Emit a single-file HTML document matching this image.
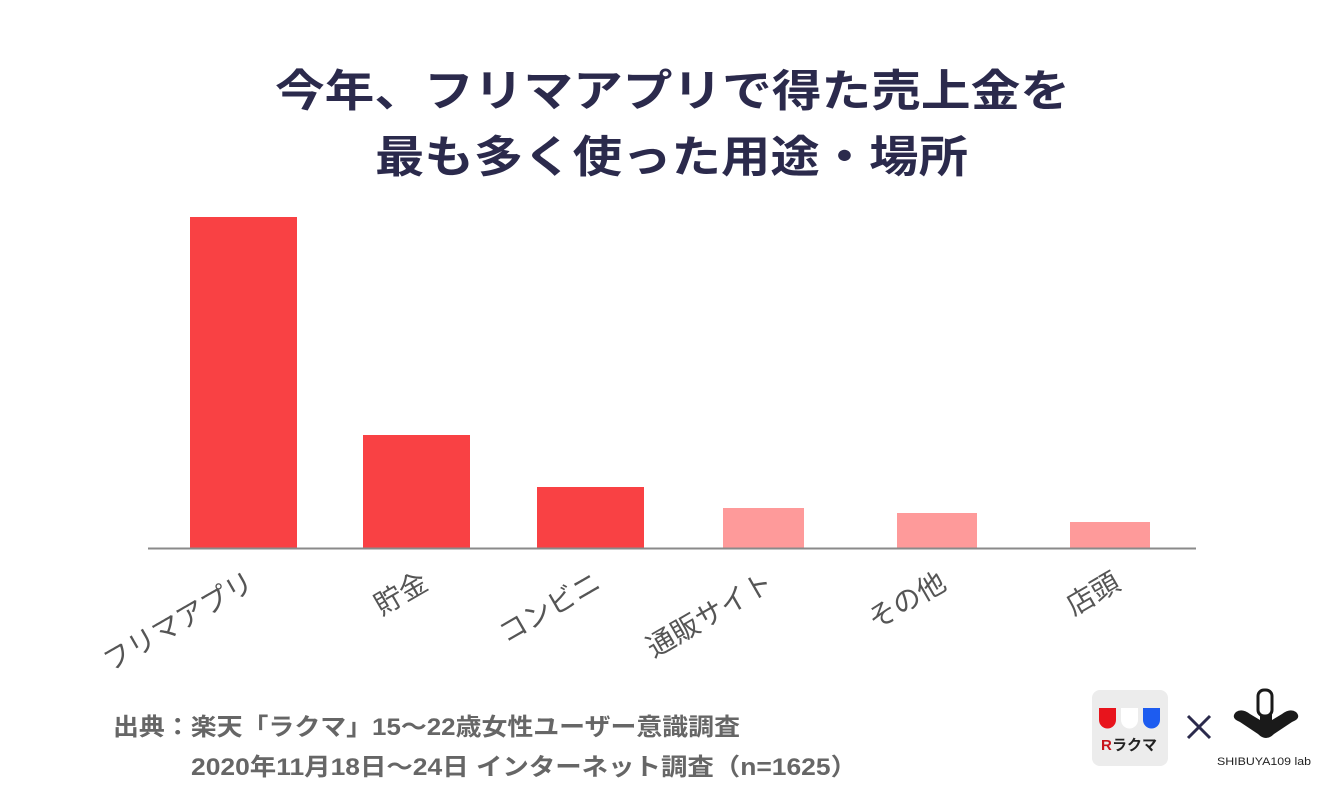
<!DOCTYPE html>
<html><head><meta charset="utf-8"><style>
html,body{margin:0;padding:0;background:#fff;}
svg{display:block;}
text{font-family:"Liberation Sans","Noto Sans CJK JP",sans-serif;}
</style></head><body>
<svg width="1344" height="806" viewBox="0 0 1344 806" xmlns="http://www.w3.org/2000/svg">
<rect width="1344" height="806" fill="#fff"/>
<g fill="#2b2a4c" font-weight="bold" font-size="44">
<text x="275" y="106" textLength="795" lengthAdjust="spacingAndGlyphs">今年、フリマアプリで得た売上金を</text>
<text x="375" y="172" textLength="593" lengthAdjust="spacingAndGlyphs">最も多く使った用途・場所</text>
</g>
<rect x="190" y="217" width="107" height="331" fill="#f94144"/>
<rect x="363" y="435" width="107" height="113" fill="#f94144"/>
<rect x="537" y="487" width="107" height="61" fill="#f94144"/>
<rect x="723" y="508" width="81" height="40" fill="#fe9a9a"/>
<rect x="897" y="513" width="80" height="35" fill="#fe9a9a"/>
<rect x="1070" y="522" width="80" height="26" fill="#fe9a9a"/>
<line x1="148" y1="548.5" x2="1196" y2="548.5" stroke="#8a8a8a" stroke-width="2"/>
<g fill="#555" font-size="28" text-anchor="end">
<text transform="translate(256,588) rotate(-30)">フリマアプリ</text>
<text transform="translate(430,588) rotate(-30)">貯金</text>
<text transform="translate(603,588) rotate(-30)">コンビニ</text>
<text transform="translate(775,588) rotate(-30)">通販サイト</text>
<text transform="translate(948,588) rotate(-30)">その他</text>
<text transform="translate(1122,588) rotate(-30)">店頭</text>
</g>
<g fill="#666" font-size="24" font-weight="bold">
<text x="113" y="735" textLength="627" lengthAdjust="spacingAndGlyphs">出典：楽天「ラクマ」15〜22歳女性ユーザー意識調査</text>
<text x="191" y="775" textLength="666" lengthAdjust="spacingAndGlyphs">2020年11月18日〜24日 インターネット調査（n=1625）</text>
</g>
<rect x="1092" y="690" width="76" height="76" rx="8" fill="#ececec"/>
<path d="M1099 708 h17 v12 a8.5 8.5 0 0 1 -17 0 z" fill="#e8141c"/>
<path d="M1121 708 h17 v12 a8.5 8.5 0 0 1 -17 0 z" fill="#fff"/>
<path d="M1143 708 h17 v12 a8.5 8.5 0 0 1 -17 0 z" fill="#1d5cf0"/>
<text x="1101" y="750" font-size="15" font-weight="bold" fill="#c8141c">R</text>
<text x="1112" y="750" font-size="15" font-weight="bold" fill="#222">ラクマ</text>
<g stroke="#2b2a4c" stroke-width="3"><line x1="1188" y1="716" x2="1210" y2="738"/><line x1="1210" y1="716" x2="1188" y2="738"/></g>
<path d="M1236 712 q-6 6 4 10 l18 12 q8 8 16 0 l18 -12 q10 -4 4 -10 q-6 -4 -14 2 l-10 6 v-20 h-12 v20 l-10 -6 q-8 -6 -14 -2z" fill="#1a1a1a"/>
<rect x="1258" y="690" width="14" height="26" rx="6" fill="#fff" stroke="#1a1a1a" stroke-width="3"/>
<text x="1217" y="765" font-size="11" fill="#222" textLength="94" lengthAdjust="spacingAndGlyphs">SHIBUYA109 lab</text>
</svg>
</body></html>
